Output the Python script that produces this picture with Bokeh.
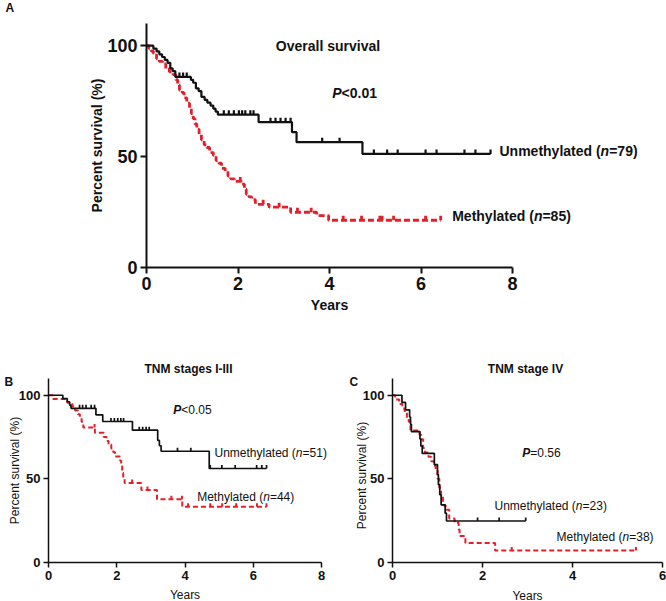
import math
from bokeh.plotting import figure
from bokeh.models import Label, FixedTicker, Range1d
from bokeh.layouts import column, row
from bokeh.embed import file_html
from bokeh.resources import INLINE

# ---------------- DATA ----------------
# Panel A: Overall survival
a_unmeth_t = [0.15, 0.22, 0.28, 0.34, 0.40, 0.46, 0.52, 0.57, 0.63, 0.97, 1.02, 1.08, 1.14,
              1.20, 1.27, 1.33, 1.40, 1.46, 1.51, 1.56, 2.45, 3.18, 3.28, 4.72]
a_unmeth_s = [98.7, 97.4, 96.1, 94.9, 93.6, 92.3, 89.8, 88.5, 85.9, 84.6, 83.3, 80.8, 79.5,
              76.9, 75.6, 74.3, 73.0, 71.6, 70.3, 68.9, 65.5, 61.0, 56.5, 51.2]
a_unmeth_end = 7.52
a_unmeth_cens = [0.72, 0.80, 0.88, 1.69, 1.80, 1.91, 2.02, 2.09, 2.16, 2.27, 2.34, 2.71, 2.82,
                 2.93, 3.04, 3.15, 3.84, 4.22, 4.97, 5.26, 5.49, 6.10, 6.34, 6.95, 7.19, 7.52]

a_meth_t = [0.05, 0.10, 0.15, 0.22, 0.28, 0.35, 0.42, 0.50, 0.58, 0.64, 0.68, 0.72, 0.78, 0.82,
            0.88, 0.94, 0.98, 1.02, 1.06, 1.10, 1.15, 1.20, 1.26, 1.32, 1.38, 1.46, 1.52, 1.58,
            1.64, 1.72, 1.78, 1.84, 1.92, 2.08, 2.14, 2.18, 2.24, 2.30, 2.38, 2.68, 3.15, 3.72, 3.98]
a_meth_s = [98.8, 97.6, 96.5, 94.1, 92.9, 91.8, 89.4, 88.2, 87.0, 84.7, 82.3, 80.0, 78.8, 76.5,
            74.1, 71.8, 69.4, 67.1, 64.7, 62.3, 60.0, 57.6, 55.3, 54.1, 51.8, 50.6, 48.2, 47.0,
            44.7, 43.5, 41.2, 40.0, 38.8, 37.6, 35.3, 33.0, 31.8, 30.6, 28.5, 27.2, 24.9, 23.4, 21.3]
a_meth_end = 6.43
a_meth_cens = [2.05, 2.55, 2.90, 3.30, 3.60, 4.30, 4.70, 5.10, 5.15, 5.40, 6.10, 6.43]

# Panel B: TNM stages I-III
b_unmeth_t = [0.42, 0.55, 0.62, 0.66, 1.39, 1.59, 2.46, 3.20, 3.25, 3.30, 4.71]
b_unmeth_s = [98.0, 96.1, 94.1, 92.2, 88.3, 84.3, 79.1, 73.0, 69.8, 66.5, 56.2]
b_unmeth_end = 6.39
b_unmeth_cens = [0.91, 1.00, 1.10, 1.25, 1.35, 1.83, 1.93, 2.03, 2.12, 2.20, 2.66, 2.76, 2.86,
                 2.95, 3.78, 4.17, 4.74, 5.08, 5.47, 6.10, 6.25, 6.39]

b_meth_t = [0.12, 0.55, 0.70, 0.78, 0.86, 0.92, 0.97, 1.02, 1.36, 1.62, 1.70, 1.76, 1.84, 1.90,
            1.95, 2.10, 2.13, 2.16, 2.19, 2.23, 2.72, 3.18, 3.92]
b_meth_s = [97.7, 95.5, 93.2, 90.9, 88.6, 86.4, 84.1, 80.7, 77.5, 75.0, 72.7, 70.5, 68.2, 65.9,
            63.4, 60.8, 57.6, 53.7, 50.6, 47.5, 43.3, 37.8, 33.3]
b_meth_end = 6.39
b_meth_cens = [1.35, 2.45, 2.90, 3.60, 3.91, 4.09, 4.74, 5.09, 5.50, 6.11, 6.39]

# Panel C: TNM stage IV
c_unmeth_t = [0.21, 0.29, 0.38, 0.40, 0.42, 0.61, 0.63, 0.66, 0.93, 1.00, 1.02, 1.05, 1.08, 1.17, 1.20]
c_unmeth_s = [95.7, 91.3, 87.0, 82.6, 78.3, 73.9, 69.6, 65.2, 58.5, 52.5, 46.5, 40.5, 34.5, 29.5, 24.8]
c_unmeth_end = 2.96
c_unmeth_cens = [1.89, 2.37, 2.96]

c_meth_t = [0.06, 0.15, 0.22, 0.27, 0.32, 0.36, 0.40, 0.60, 0.64, 0.68, 0.72, 0.80, 0.86, 0.92,
            0.96, 1.00, 1.04, 1.08, 1.12, 1.18, 1.26, 1.38, 1.47, 1.49, 1.62, 2.28]
c_meth_s = [97.4, 94.7, 92.1, 89.5, 86.8, 84.2, 78.9, 76.3, 73.7, 68.4, 65.8, 63.2, 60.5, 57.9,
            55.3, 50.0, 44.7, 39.5, 34.2, 31.6, 26.3, 23.7, 19.7, 15.8, 11.6, 7.2]
c_meth_end = 5.41
c_meth_cens = [2.65, 5.41]

y_ticks = [0, 50, 100]
a_x_ticks = [0, 2, 4, 6, 8]
b_x_ticks = [0, 2, 4, 6, 8]
c_x_ticks = [0, 2, 4, 6]

# ---------------- STYLE / HELPERS ----------------
FONT = "Liberation Sans"
RED = "#e3202a"
BLACK = "#111111"

W_REG = {'U': 722, 'n': 556, 'm': 833, 'e': 556, 't': 278, 'h': 556, 'y': 500, 'l': 222,
         'a': 556, 'd': 556, ' ': 278, '(': 333, ')': 333, '=': 584, '<': 584, '.': 278,
         'M': 833, 'P': 667}
W_BOLD = {'U': 722, 'n': 611, 'm': 889, 'e': 556, 't': 333, 'h': 611, 'y': 556, 'l': 278,
          'a': 556, 'd': 611, ' ': 278, '(': 333, ')': 333, '=': 584, '<': 584, '.': 278,
          'M': 833, 'P': 667}


def tw(s, size, bold):
    tbl = W_BOLD if bold else W_REG
    return sum(tbl.get(c, 556) for c in s) * size / 1000.0


class Panel:
    """Figure whose plotting frame fills its whole canvas; axes are pinned at 0."""

    def __init__(self, ox, oy, w, h, x0, xs, y0, ys, xmax, xticks,
                 tick_size, axw, tick_out):
        # ox, oy: page offset of canvas; x0/y0: page px of the data origin; xs/ys: px per unit
        self.ox, self.oy, self.x0, self.xs, self.y0, self.ys = ox, oy, x0, xs, y0, ys
        p = figure(width=w, height=h, title=None,
                   x_range=Range1d(self.X(ox), self.X(ox + w)),
                   y_range=Range1d(self.Y(oy + h), self.Y(oy)),
                   output_backend="svg", toolbar_location=None, min_border=0)
        p.grid.visible = False
        p.outline_line_color = None
        p.background_fill_color = "white"
        p.border_fill_color = "white"
        p.xaxis.ticker = FixedTicker(ticks=xticks)
        p.yaxis.ticker = FixedTicker(ticks=y_ticks)
        p.xaxis.bounds = (0, xmax)
        p.yaxis.bounds = (0, 110)
        p.xaxis.fixed_location = 0
        p.yaxis.fixed_location = 0
        for ax in (p.xaxis, p.yaxis):
            ax.axis_line_width = axw
            ax.axis_line_color = BLACK
            ax.major_tick_line_width = axw
            ax.major_tick_line_color = BLACK
            ax.major_tick_in = 0
            ax.major_tick_out = tick_out
            ax.minor_tick_line_color = None
            ax.major_label_text_font = FONT
            ax.major_label_text_font_size = f"{tick_size}px"
            ax.major_label_text_font_style = "bold"
            ax.major_label_text_color = BLACK
            ax.major_label_standoff = 3
        self.p = p

    def X(self, px):
        return (px - self.x0) / self.xs

    def Y(self, py):
        return (self.y0 - py) / self.ys

    def text(self, px, py, txt, size, style, align="left", angle=0.0):
        self.p.add_layout(Label(x=self.X(px), y=self.Y(py), text=txt, text_font=FONT,
                                text_font_size=f"{size}px", text_font_style=style,
                                text_baseline="middle", text_align=align, angle=angle,
                                text_color=BLACK))

    def rich(self, px, py, parts, size):
        off = 0.0
        for txt, style in parts:
            self.p.add_layout(Label(x=self.X(px), y=self.Y(py), x_offset=off, text=txt,
                                    text_font=FONT, text_font_size=f"{size}px",
                                    text_font_style=style, text_baseline="middle",
                                    text_align="left", text_color=BLACK))
            off += tw(txt, size, "bold" in style)

    def km(self, ts, ss, end, cens, color, width, dash, tick_px):
        xs = [0.0] + list(ts) + [end]
        ys = [100.0] + list(ss) + [ss[-1]]
        self.p.step(xs, ys, mode="after", line_color=color, line_width=width, line_dash=dash)
        lv = [level_at(ts, ss, c) for c in cens]
        h = tick_px / self.ys
        self.p.segment(x0=cens, y0=lv, x1=cens, y1=[v + h for v in lv],
                       line_color=color, line_width=width)


def level_at(ts, ss, t):
    s = 100.0
    for ti, si in zip(ts, ss):
        if ti <= t:
            s = si
    return s


VERT = math.pi / 2

# ---------------- PANEL A ----------------
A = Panel(0, 0, 666, 340, 146, 45.75, 267, 2.218, 8, a_x_ticks, 18, 2, 6)
A.km(a_meth_t, a_meth_s, a_meth_end, a_meth_cens, RED, 2.8, "6 3", 4.5)
A.km(a_unmeth_t, a_unmeth_s, a_unmeth_end, a_unmeth_cens, BLACK, 2.2, "solid", 4.5)
A.text(5, 7, "A", 12, "bold")
A.text(329, 304, "Years", 14, "bold", align="center")
A.text(96, 145, "Percent survival (%)", 14, "bold", align="center", angle=VERT)
A.text(327.5, 45, "Overall survival", 14, "bold", align="center")
A.rich(331.7, 92.7, [("P", "bold italic"), ("<0.01", "bold")], 14)
A.rich(499, 150.3, [("Unmethylated (", "bold"), ("n", "bold italic"), ("=79)", "bold")], 14)
A.rich(451.7, 215.7, [("Methylated (", "bold"), ("n", "bold italic"), ("=85)", "bold")], 14)

# ---------------- PANEL B ----------------
B = Panel(0, 340, 340, 261, 48, 34.125, 562, 1.6727, 8, b_x_ticks, 13, 1.5, 5)
B.km(b_meth_t, b_meth_s, b_meth_end, b_meth_cens, RED, 2.0, "5 3", 3.5)
B.km(b_unmeth_t, b_unmeth_s, b_unmeth_end, b_unmeth_cens, BLACK, 1.7, "solid", 3.5)
B.text(4, 381, "B", 12, "bold")
B.text(184.5, 594, "Years", 12, "normal", align="center")
B.text(14, 470, "Percent survival (%)", 12, "normal", align="center", angle=VERT)
B.text(188, 368, "TNM stages I-III", 12, "bold", align="center")
B.rich(172.7, 409, [("P", "bold italic"), ("<0.05", "normal")], 12)
B.rich(214, 452.7, [("Unmethylated (", "normal"), ("n", "italic"), ("=51)", "normal")], 12)
B.rich(196.7, 496, [("Methylated (", "normal"), ("n", "italic"), ("=44)", "normal")], 12)

# ---------------- PANEL C ----------------
C = Panel(340, 340, 326, 261, 392, 45.0, 562, 1.6727, 6, c_x_ticks, 13, 1.5, 5)
C.km(c_meth_t, c_meth_s, c_meth_end, c_meth_cens, RED, 2.0, "5 3", 3.5)
C.km(c_unmeth_t, c_unmeth_s, c_unmeth_end, c_unmeth_cens, BLACK, 1.7, "solid", 3.5)
C.text(349, 381, "C", 12, "bold")
C.text(527, 595, "Years", 12, "normal", align="center")
C.text(361, 475, "Percent survival (%)", 12, "normal", align="center", angle=VERT)
C.text(525, 368, "TNM stage IV", 12, "bold", align="center")
C.rich(521.7, 452.3, [("P", "bold italic"), ("=0.56", "normal")], 12)
C.rich(494, 505.3, [("Unmethylated (", "normal"), ("n", "italic"), ("=23)", "normal")], 12)
C.rich(556, 536.7, [("Methylated (", "normal"), ("n", "italic"), ("=38)", "normal")], 12)

layout = column(A.p, row(B.p, C.p))
open("out.html", "w").write(file_html(layout, INLINE))
